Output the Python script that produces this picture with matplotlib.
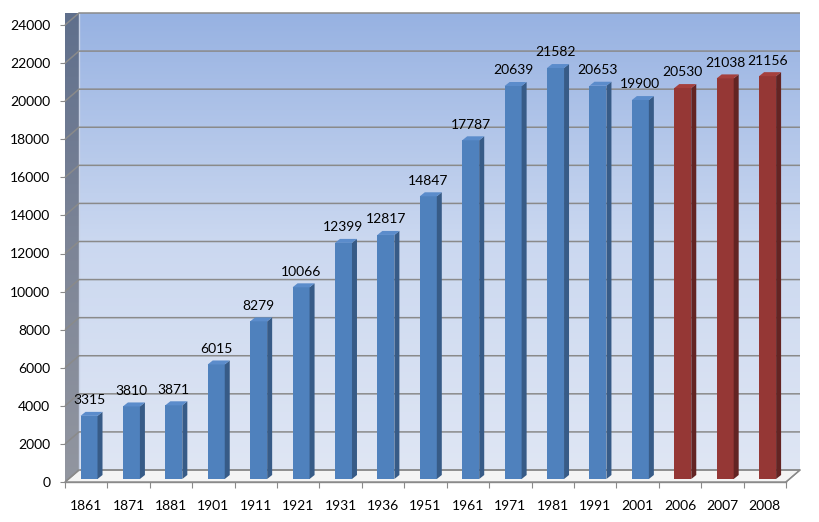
import matplotlib
matplotlib.use("Agg")
import matplotlib.pyplot as plt
import numpy as np
from matplotlib.patches import Polygon, Rectangle
from matplotlib.colors import LinearSegmentedColormap

years = ["1861", "1871", "1881", "1901", "1911", "1921", "1931", "1936", "1951",
         "1961", "1971", "1981", "1991", "2001", "2006", "2007", "2008"]
values = [3315, 3810, 3871, 6015, 8279, 10066, 12399, 12817, 14847,
          17787, 20639, 21582, 20653, 19900, 20530, 21038, 21156]
highlight_from = "2006"
yticks = list(range(0, 24001, 2000))

plt.rcParams['font.family'] = ['Lato', 'DejaVu Sans']
FS = 10

W, H = 820, 522
fig = plt.figure(figsize=(W / 100, H / 100), dpi=100)
fig.patch.set_facecolor("white")

# front plane in pixels
px_l, px_r, px_b, px_t = 65, 786, 482, 25
ax = fig.add_axes([px_l / W, (H - px_b) / H, (px_r - px_l) / W, (px_b - px_t) / H])
n = len(years)
ymax = 24000
ax.set_xlim(0, n)
ax.set_ylim(0, ymax)
ax.set_facecolor("none")
for s in ax.spines.values():
    s.set_visible(False)

ppx = (px_r - px_l) / n          # pixels per x unit
ppy = (px_b - px_t) / ymax       # pixels per y unit
DX, DY = 14 / ppx, 12 / ppy      # depth of the wall
bdx, bdy = 5 / ppx, 4 / ppy      # depth of a bar
bw = 17 / ppx
bar_depth_frac = 0.25

grid_c = "#8a8a8a"

# back wall gradient
grad = np.linspace(0, 1, 256).reshape(-1, 1)
cmap_back = LinearSegmentedColormap.from_list("b", ["#dfe6f4", "#cbd8f0", "#97b2e2"])
im = ax.imshow(grad, aspect="auto", cmap=cmap_back, origin="lower",
               extent=(DX, n + DX, DY, ymax + DY), zorder=0, clip_on=False)
# left wall gradient
cmap_left = LinearSegmentedColormap.from_list("l", ["#9296a0", "#7d8597", "#5f6f8c"])
im2 = ax.imshow(grad, aspect="auto", cmap=cmap_left, origin="lower",
                extent=(0, DX, 0, ymax + DY), zorder=0, clip_on=False)
lw_poly = Polygon([(0, 0), (DX, DY), (DX, ymax + DY), (0, ymax)], closed=True,
                  facecolor="none", edgecolor="none", transform=ax.transData)
ax.add_patch(lw_poly)
im2.set_clip_path(lw_poly)

# floor
ax.add_patch(Polygon([(0, 0), (n, 0), (n + DX, DY), (DX, DY)], closed=True,
                     facecolor="#f4f4f4", edgecolor=grid_c, lw=1.0, zorder=1,
                     clip_on=False))
# edge between left wall and back wall
ax.plot([DX, DX], [DY, ymax + DY], color="#c8d2e6", lw=1, zorder=1, clip_on=False)

# gridlines (left wall slant + back wall)
for v in yticks:
    ax.plot([0, DX, n + DX], [v, v + DY, v + DY], color=grid_c, lw=1.1,
            zorder=1, clip_on=False, solid_capstyle="butt")
ax.plot([n, n + DX], [0, DY], color=grid_c, lw=1.0, zorder=1, clip_on=False)

# bars
hi = years.index(highlight_from)
for i, (yr, v) in enumerate(zip(years, values)):
    if i >= hi:
        front, side, top = "#953735", "#632423", "#a5403d"
    else:
        front, side, top = "#4f81bd", "#375b87", "#5b8ccb"
    x0 = i + 0.5 - bw / 2 + bar_depth_frac * DX * 0.8
    y0 = bar_depth_frac * DY
    ax.add_patch(Rectangle((x0, y0), bw, v, facecolor=front, edgecolor="none",
                           zorder=3, clip_on=False))
    ax.add_patch(Polygon([(x0 + bw, y0), (x0 + bw + bdx, y0 + bdy),
                          (x0 + bw + bdx, y0 + v + bdy), (x0 + bw, y0 + v)],
                         closed=True, facecolor=side, edgecolor="none", zorder=3,
                         clip_on=False))
    ax.add_patch(Polygon([(x0, y0 + v), (x0 + bw, y0 + v),
                          (x0 + bw + bdx, y0 + v + bdy), (x0 + bdx, y0 + v + bdy)],
                         closed=True, facecolor=top, edgecolor="none", zorder=3,
                         clip_on=False))
    ax.annotate(f"{v}", (x0 + bw / 2, y0 + v + bdy), xytext=(0, 5.5),
                textcoords="offset points", ha="center", va="baseline",
                fontsize=FS, color="black", zorder=5, annotation_clip=False)

# axes ticks
ax.set_yticks(yticks)
ax.set_yticklabels([str(t) for t in yticks], fontsize=FS)
ax.tick_params(axis="y", length=3.6, width=0.8, color=grid_c, pad=7, labelcolor="black")
ax.set_xticks(np.arange(0, n + 1))
ax.set_xticklabels([])
ax.set_xticks(np.arange(n) + 0.5, minor=True)
ax.set_xticklabels(years, minor=True, fontsize=FS)
ax.tick_params(axis="x", which="major", length=4.5, width=0.8, color=grid_c)
ax.tick_params(axis="x", which="minor", length=0, pad=13, labelcolor="black")
ax.plot([0, n], [0, 0], color=grid_c, lw=1.0, zorder=2, clip_on=False)

fig.savefig("out.png", dpi=100, facecolor="white")
